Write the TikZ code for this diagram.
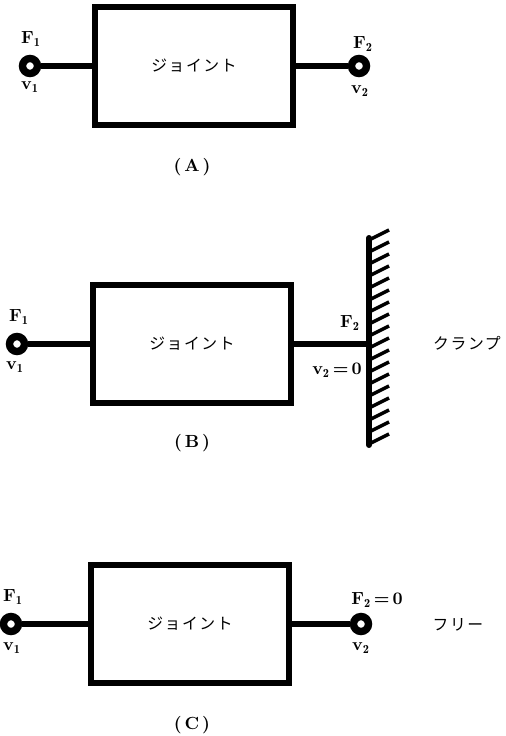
\documentclass[tikz,border=0pt]{standalone}
\usepackage{amsmath}
\usepackage{fontspec}
\usepackage{tikz}
\newfontfamily\cjk[LetterSpace=10]{Noto Sans CJK JP}
\tikzset{
	jointbox/.style={draw, line width=3.3pt, minimum width=3.96cm, minimum height=2.36cm, inner sep=0pt, font=\cjk\fontsize{9pt}{11pt}\selectfont},
	terminal/.style={circle, draw, fill=white, line width=4.2pt, minimum size=0.3cm, inner sep=0pt},
	link/.style={line width=3.1pt},
	lbl/.style={inner sep=0pt, font=\fontsize{10pt}{12pt}\selectfont\bfseries},
	kana/.style={inner sep=0pt, font=\cjk\fontsize{9pt}{11pt}\selectfont}
}
\begin{document}
\begin{tikzpicture}[x=0.02cm, y=-0.02cm]
	\useasboundingbox (0,0) rectangle (505,736);

	% Joint (A)
	\node[jointbox] (boxA) at (194,66) {ジョイント};
	\node[terminal] (a1) at (30,66) {};
	\node[terminal] (a2) at (359,66) {};
	\draw[link] (a1) -- (boxA.west);
	\draw[link] (boxA.east) -- (a2);
	\node[lbl] (fa1) at (31,39) {F$_{\mathbf{1}}$};
	\node[lbl] (va1) at (30,87) {v$_{\mathbf{1}}$};
	\node[lbl] (fa2) at (363,44) {F$_{\mathbf{2}}$};
	\node[lbl] (va2) at (360,91) {v$_{\mathbf{2}}$};
	\node[lbl] (capA) at (192,167) {(\,A\,)};

	% Joint (B) with clamp
	\node[jointbox] (boxB) at (192,344) {ジョイント};
	\node[terminal] (b1) at (17,344) {};
	\coordinate (wallTop) at (369,238);
	\coordinate (wallBot) at (369,445);
	\coordinate (b2) at (369,344);
	\draw[link] (b1) -- (boxB.west);
	\draw[link] (boxB.east) -- (b2);
	\draw[line width=3.4pt, line cap=round] (wallTop) -- (wallBot);
	\foreach \y in {240,252,...,444}
		\draw[line width=2pt] (369,\y) -- +(20,-10);
	\node[lbl] (fb1) at (19,317) {F$_{\mathbf{1}}$};
	\node[lbl] (vb1) at (15,367) {v$_{\mathbf{1}}$};
	\node[lbl] (fb2) at (350,323) {F$_{\mathbf{2}}$};
	\node[lbl] (vb2) at (337,370) {v$_{\mathbf{2}}$\,=\,0};
	\node[lbl] (capB) at (192,443) {(\,B\,)};
	\node[kana] (clamp) at (467,343) {クランプ};

	% Joint (C) free end
	\node[jointbox] (boxC) at (190,624) {ジョイント};
	\node[terminal] (c1) at (11,624) {};
	\node[terminal] (c2) at (361,624) {};
	\draw[link] (c1) -- (boxC.west);
	\draw[link] (boxC.east) -- (c2);
	\node[lbl] (fc1) at (13,597) {F$_{\mathbf{1}}$};
	\node[lbl] (vc1) at (12,648) {v$_{\mathbf{1}}$};
	\node[lbl] (fc2) at (377,600) {F$_{\mathbf{2}}$\,=\,0};
	\node[lbl] (vc2) at (361,648) {v$_{\mathbf{2}}$};
	\node[lbl] (capC) at (192,725) {(\,C\,)};
	\node[kana] (free) at (458,625) {フリー};
\end{tikzpicture}
\end{document}
